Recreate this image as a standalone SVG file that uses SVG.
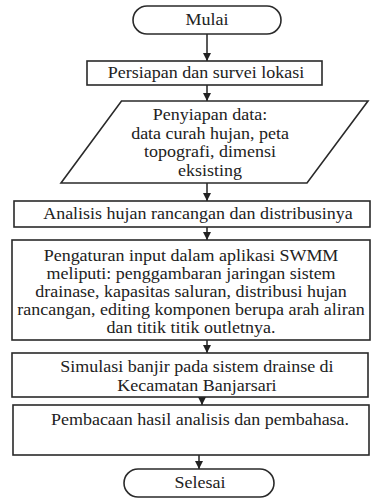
<svg xmlns="http://www.w3.org/2000/svg" width="371" height="498" viewBox="0 0 371 498">
<defs>
<marker id="ah" markerUnits="userSpaceOnUse" markerWidth="8" markerHeight="8" refX="8" refY="4" orient="auto">
<path d="M0,0 L8,4 L0,8 z" fill="#222"/>
</marker>
<style>
.s{fill:#fff;stroke:#2a2a2a;stroke-width:1.6}
.t{font-family:"Liberation Serif","Times New Roman",serif;font-size:16px;fill:#222;text-anchor:middle}
.c{stroke:#222;stroke-width:1.5;fill:none;marker-end:url(#ah)}
</style>
</defs>
<rect width="371" height="498" fill="#fff"/>
<g id="connectors">
<line class="c" x1="207" y1="34" x2="207" y2="61"/>
<line class="c" x1="207" y1="85" x2="207" y2="101"/>
<line class="c" x1="207" y1="183" x2="207" y2="201"/>
<line class="c" x1="207" y1="227" x2="207" y2="240"/>
<line class="c" x1="207" y1="340" x2="207" y2="353"/>
<line class="c" x1="202" y1="397" x2="202" y2="405"/>
<line class="c" x1="199" y1="455" x2="199" y2="469"/>
</g>
<g id="mulai">
<rect class="s" x="133" y="6" width="148" height="28" rx="14"/>
<text class="t" transform="scale(1.125 1)" x="184" y="25">Mulai</text>
</g>
<g id="persiapan">
<rect class="s" x="87" y="61" width="235" height="24"/>
<text class="t" transform="scale(1.125 1)" x="183.1" y="78.5">Persiapan dan survei lokasi</text>
</g>
<g id="penyiapan">
<polygon class="s" points="121.5,101 368,101 307,183 61,183"/>
<g class="t" transform="scale(1.125 1)">
<text x="186.7" y="120.5">Penyiapan data:</text>
<text x="186.7" y="139">data curah hujan, peta</text>
<text x="186.7" y="157.5">topografi, dimensi</text>
<text x="186.7" y="176">eksisting</text>
</g>
</g>
<g id="analisis">
<rect class="s" x="14" y="201" width="356" height="26"/>
<text class="t" transform="scale(1.125 1)" x="176" y="219.5">Analisis hujan rancangan dan distribusinya</text>
</g>
<g id="pengaturan">
<rect class="s" x="12" y="240" width="358" height="100"/>
<g class="t" transform="scale(1.125 1)">
<text x="169.8" y="261">Pengaturan input dalam aplikasi SWMM</text>
<text x="169.8" y="279">meliputi: penggambaran jaringan sistem</text>
<text x="169.8" y="297">drainase, kapasitas saluran, distribusi hujan</text>
<text x="169.8" y="315">rancangan, editing komponen berupa arah aliran</text>
<text x="169.8" y="333">dan titik titik outletnya.</text>
</g>
</g>
<g id="simulasi">
<rect class="s" x="12" y="353" width="356" height="44"/>
<g class="t" transform="scale(1.125 1)">
<text x="175.1" y="372">Simulasi banjir pada sistem drainse di</text>
<text x="175.1" y="391">Kecamatan Banjarsari</text>
</g>
</g>
<g id="pembacaan">
<rect class="s" x="13" y="405" width="356" height="50"/>
<text class="t" transform="scale(1.125 1)" x="177.8" y="425">Pembacaan hasil analisis dan pembahasa.</text>
</g>
<g id="selesai">
<rect class="s" x="124" y="469" width="150" height="28" rx="14"/>
<text class="t" transform="scale(1.125 1)" x="177.8" y="488">Selesai</text>
</g>
</svg>
